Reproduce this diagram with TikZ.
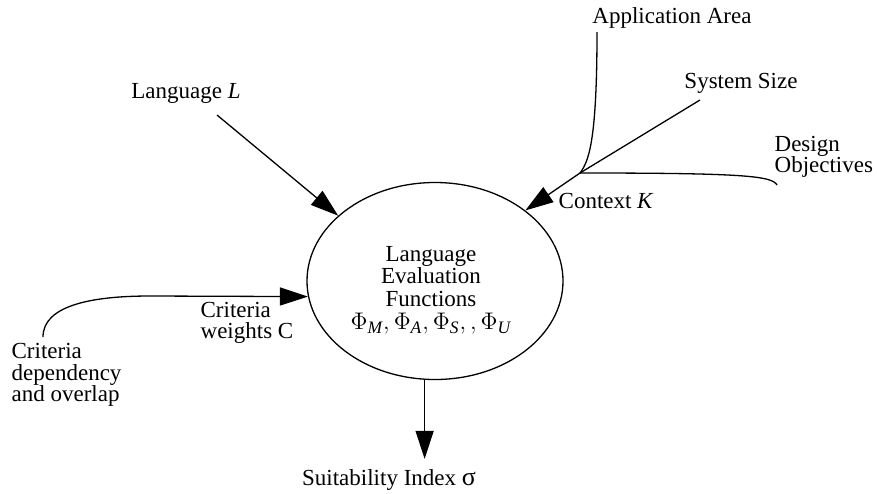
\documentclass[tikz,border=0pt]{standalone}
\usepackage{fontspec}
\setmainfont{Liberation Serif}
\usetikzlibrary{shapes.geometric,arrows.meta}

\begin{document}
\begin{tikzpicture}[x=0.5pt,y=-0.5pt,line width=0.65pt,
        every node/.style={font=\fontsize{11.5}{10.8}\selectfont, inner sep=0pt},
        bigarrow/.style={-{Triangle[length=14pt,width=9pt]}}]
        \useasboundingbox (0,0) rectangle (877,493);

        \node (eval) at (435,281) [ellipse, draw, minimum width=128pt, minimum height=98.5pt] {};
        \node (evaltext) at (431,290) [align=center, font=\fontsize{11.5}{11.4}\selectfont]
                {Language\\Evaluation\\Functions\\{\fontsize{12.5}{11.4}\selectfont\(\Phi_{\mathit{M}}, \Phi_{\mathit{A}}, \Phi_{\mathit{S}}, ,\Phi_{\mathit{U}}\)}};

        \node (langL) at (186,93) {Language \textit{L}};
        \coordinate (langstart) at (217,115);
        \draw[bigarrow] (langstart) -- (eval.146);

        \node (appArea) at (672,18) {Application Area};
        \node (sysSize) at (741,83) {System Size};
        \node (designObj) at (774,157) [anchor=west, align=left] {Design\\Objectives};
        \coordinate (ctx) at (580,173);
        \coordinate (append) at (597,32);
        \coordinate (sysend) at (700,100);
        \coordinate (designend) at (777,185);
        \draw (append) .. controls (597,145) and (588,162) .. (ctx);
        \draw (sysend) -- (ctx);
        \draw (ctx) .. controls (745,173) and (772,176) .. (designend);
        \node (contextK) at (558,201) [anchor=west] {Context \textit{K}};
        \draw[bigarrow] (ctx) -- (eval.38);

        \node (critW) at (200,323) [anchor=west, align=left] {Criteria\\weights C};
        \node (critDep) at (11,375) [anchor=west, align=left] {Criteria\\dependency\\and overlap};
        \coordinate (critstart) at (43,337);
        \draw[bigarrow] (critstart) .. controls (43,306) and (90,296) .. (150,296) -- (eval.187);

        \node (suit) at (389,480) {Suitability Index {\fontsize{13}{12}\selectfont σ}};
        \draw[bigarrow, shorten >=5pt] (eval.264) -- (eval.264 |- suit.north);
        \end{tikzpicture}
\end{document}
